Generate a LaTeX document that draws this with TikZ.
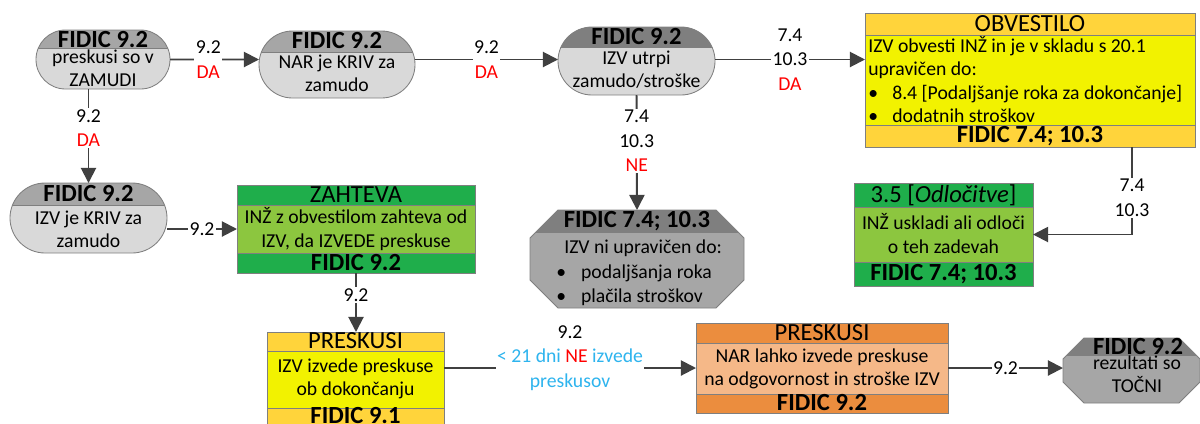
\documentclass[tikz,border=0pt]{standalone}
\usepackage{fontspec}
\setmainfont{Carlito}
\usetikzlibrary{calc,arrows.meta,shapes.misc}

\definecolor{linegray}{HTML}{404040}
\definecolor{edgegray}{HTML}{7F7F7F}
\definecolor{capbody}{HTML}{D9D9D9}
\definecolor{caphead}{HTML}{A6A6A6}
\definecolor{darkhead}{HTML}{7F7F7F}
\definecolor{octbody}{HTML}{A6A6A6}
\definecolor{yelbody}{HTML}{F2F200}
\definecolor{yelhead}{HTML}{FFD43B}
\definecolor{grnbody}{HTML}{8CC63F}
\definecolor{grnhead}{HTML}{1FAE4B}
\definecolor{orgbody}{HTML}{F5B888}
\definecolor{orghead}{HTML}{EB8D3E}
\definecolor{skyblue}{HTML}{2EB4EE}

\newcommand{\bandcol}{caphead}
\newcommand{\hbandh}{20}
\newcommand{\fbandh}{20}
% octagon round a node, chamfer in px
\newcommand{\octpath}[2]{($(#1.north west)+(#2,0)$) -- ($(#1.north east)+(-#2,0)$) -- ($(#1.north east)+(0,#2)$) -- ($(#1.south east)+(0,-#2)$) -- ($(#1.south east)+(-#2,0)$) -- ($(#1.south west)+(#2,0)$) -- ($(#1.south west)+(0,-#2)$) -- ($(#1.north west)+(0,#2)$) -- cycle}

\tikzset{
  wd/.style={minimum width=#1*0.025cm},
  ht/.style={minimum height=#1*0.025cm},
  bandcol/.store in=\bandcol,
  hband/.store in=\hbandh,
  fband/.store in=\fbandh,
  shp/.style={inner sep=0pt, outer sep=0pt, draw=edgegray, line width=0.6pt},
  capsule/.style={shp, rounded rectangle, fill=capbody},
  octa/.style={inner sep=0pt, outer sep=0pt, rectangle},
  box/.style={shp, rectangle},
  edge/.style={draw=edgegray, line width=0.6pt},
  hdr/.style={path picture={
      \fill[\bandcol] (path picture bounding box.north west) rectangle ([yshift=-\hbandh*0.025cm]path picture bounding box.north east);
      \draw[edge] ([yshift=-\hbandh*0.025cm]path picture bounding box.north west) -- ([yshift=-\hbandh*0.025cm]path picture bounding box.north east);}},
  bands/.style={path picture={
      \fill[\bandcol] (path picture bounding box.north west) rectangle ([yshift=-\hbandh*0.025cm]path picture bounding box.north east);
      \fill[\bandcol] (path picture bounding box.south west) rectangle ([yshift=\fbandh*0.025cm]path picture bounding box.south east);
      \draw[edge] ([yshift=-\hbandh*0.025cm]path picture bounding box.north west) -- ([yshift=-\hbandh*0.025cm]path picture bounding box.north east);
      \draw[edge] ([yshift=\fbandh*0.025cm]path picture bounding box.south west) -- ([yshift=\fbandh*0.025cm]path picture bounding box.south east);}},
  fidic/.style={font=\fontsize{17.5}{18}\selectfont\bfseries, inner sep=0pt},
  ttl/.style={font=\fontsize{17.5}{18}\selectfont, inner sep=0pt},
  txt/.style={font=\fontsize{14}{16.5}\selectfont, align=center, inner sep=0pt},
  lbl/.style={font=\fontsize{14}{17.5}\selectfont, align=center, fill=white, inner sep=1pt},
  conn/.style={draw=linegray, line width=1.4pt, -{Triangle[length=0.38cm, width=0.38cm]}},
}

\begin{document}
\begin{tikzpicture}[x=0.025cm, y=-0.025cm]
  \useasboundingbox (0,0) rectangle (1200,423);

  % shapes
  \node[capsule, wd=134, ht=59, bandcol=caphead, hband=18, hdr] (n1) at (103,59.5) {};
  \node[capsule, wd=156, ht=67, bandcol=caphead, hband=21, hdr] (n2) at (337,64.5) {};
  \node[capsule, wd=157, ht=68, bandcol=darkhead, hband=20, hdr] (n3) at (636.5,61) {};
  \node[box, fill=yelbody, wd=330, ht=134, bandcol=yelhead, hband=22, fband=22, bands] (obv) at (1030,80) {};
  \node[capsule, wd=157, ht=70, bandcol=caphead, hband=22, hdr] (n5) at (88.5,218) {};
  \node[box, fill=grnbody, wd=238, ht=88, bandcol=grnhead, hband=20, fband=20, bands] (zah) at (356,229) {};
  \node[octa, wd=214, ht=98] (oct1) at (637,259) {};
  \node[box, fill=grnbody, wd=179, ht=103, bandcol=grnhead, hband=24, fband=24, bands] (g35) at (943.5,234.5) {};
  \node[box, fill=yelbody, wd=177, ht=96, bandcol=yelhead, hband=19, fband=20, bands] (pre1) at (355.5,380) {};
  \node[box, fill=orgbody, wd=252, ht=90, bandcol=orghead, hband=20, fband=19, bands] (pre2) at (822,368) {};
  \node[octa, wd=137, ht=65] (oct2) at (1131.5,370.5) {};

  % octagons
  \fill[octbody] \octpath{oct1}{28};
  \begin{scope}
    \clip \octpath{oct1}{28};
    \fill[darkhead] (oct1.north west) rectangle ($(oct1.north east)+(0,22)$);
    \draw[edge] ($(oct1.north west)+(0,22)$) -- ($(oct1.north east)+(0,22)$);
  \end{scope}
  \draw[edge] \octpath{oct1}{28};
  \fill[octbody] \octpath{oct2}{21};
  \begin{scope}
    \clip \octpath{oct2}{21};
    \fill[darkhead] (oct2.north west) rectangle ($(oct2.north east)+(0,17)$);
    \draw[edge] ($(oct2.north west)+(0,17)$) -- ($(oct2.north east)+(0,17)$);
  \end{scope}
  \draw[edge] \octpath{oct2}{21};

  % texts
  \node[fidic] (n1h) at (103,40) {FIDIC 9.2};
  \node[txt] (n1t) at (103,68.5) {preskusi so v\\ZAMUDI};
  \node[fidic] (n2h) at (337,41) {FIDIC 9.2};
  \node[txt] (n2t) at (337,73.5) {NAR je KRIV za\\zamudo};
  \node[fidic] (n3h) at (636.5,37) {FIDIC 9.2};
  \node[txt] (n3t) at (636.5,70) {IZV utrpi\\zamudo/stroške};
  \node[ttl] (obvh) at (1030,24) {OBVESTILO};
  \node[txt, align=left, anchor=west] (obvt) at (868,79.5) {IZV obvesti INŽ in je v skladu s 20.1\\upravičen do:\\\makebox[0.6cm][l]{\textbullet}8.4 [Podaljšanje roka za dokončanje]\\\makebox[0.6cm][l]{\textbullet}dodatnih stroškov};
  \node[fidic] (obvf) at (1030,136.5) {FIDIC 7.4; 10.3};
  \node[fidic] (n5h) at (88.5,194) {FIDIC 9.2};
  \node[txt] (n5t) at (88.5,229) {IZV je KRIV za\\zamudo};
  \node[ttl] (zahh) at (356,195) {ZAHTEVA};
  \node[txt] (zaht) at (356,229) {INŽ z obvestilom zahteva od\\IZV, da IZVEDE preskuse};
  \node[fidic] (zahf) at (356,263) {FIDIC 9.2};
  \node[fidic] (oct1h) at (637,221) {FIDIC 7.4; 10.3};
  \node[txt, align=left, anchor=west, font=\fontsize{14}{17.5}\selectfont] (oct1t) at (556,273) {\hspace{0.2cm}IZV ni upravičen do:\\\makebox[0.62cm][l]{\textbullet}podaljšanja roka\\\makebox[0.62cm][l]{\textbullet}plačila stroškov};
  \node[ttl] (g35h) at (943.5,195) {3.5 [\textit{Odločitve}]};
  \node[txt] (g35t) at (943.5,233.5) {INŽ uskladi ali odloči\\o teh zadevah};
  \node[fidic] (g35f) at (943.5,274) {FIDIC 7.4; 10.3};
  \node[ttl] (pre1h) at (355.5,341) {PRESKUSI};
  \node[txt] (pre1t) at (355.5,378.5) {IZV izvede preskuse\\ob dokončanju};
  \node[fidic] (pre1f) at (355.5,416) {FIDIC 9.1};
  \node[ttl] (pre2h) at (822,333) {PRESKUSI};
  \node[txt] (pre2t) at (822,368.5) {NAR lahko izvede preskuse\\na odgovornost in stroške IZV};
  \node[fidic] (pre2f) at (822,403) {FIDIC 9.2};
  \node[fidic] (oct2h) at (1138,347) {FIDIC 9.2};
  \node[txt] (oct2t) at (1137,374) {rezultati so\\TOČNI};

  % connectors
  \draw[conn] (n1) -- (n2.west |- n1) node[lbl, pos=0.43] (l12) {9.2\\\textcolor{red}{DA}};
  \draw[conn] (n2.east |- n1) -- (n3.west |- n1) node[lbl, midway] (l23) {9.2\\\textcolor{red}{DA}};
  \draw[conn] (n3.east |- n1) -- (obv.west |- n1) node[lbl, midway] (l3o) {7.4\\10.3\\\textcolor{red}{DA}};
  \draw[conn] (n1.south -| n5.north) -- (n5.north) node[lbl, pos=0.415] (l15) {9.2\\\textcolor{red}{DA}};
  \draw[conn] (n3.south) -- (oct1.north) node[lbl, pos=0.4] (l3x) {7.4\\10.3\\\textcolor{red}{NE}};
  \draw[conn] (n5.east |- zah.west) -- (zah.west) node[lbl, midway] (l5z) {9.2};
  \draw[conn] (zah.south) -- (zah.south |- pre1.north) node[lbl, pos=0.37] (lzp) {9.2};
  \draw[conn] ($(obv.south east)+(-63,0)$) |- (g35.east) node[lbl, pos=0.29] (log) {7.4\\10.3};
  \draw[conn] (pre1.east |- pre2.west) -- (pre2.west) node[lbl, midway, yshift=0.25cm] (lpp) {9.2\\\textcolor{skyblue}{< 21 dni \textcolor{red}{NE} izvede}\\\textcolor{skyblue}{preskusov}};
  \draw[conn] (pre2.east) -- (pre2.east -| oct2.west) node[lbl, midway] (lpo) {9.2};
\end{tikzpicture}
\end{document}
